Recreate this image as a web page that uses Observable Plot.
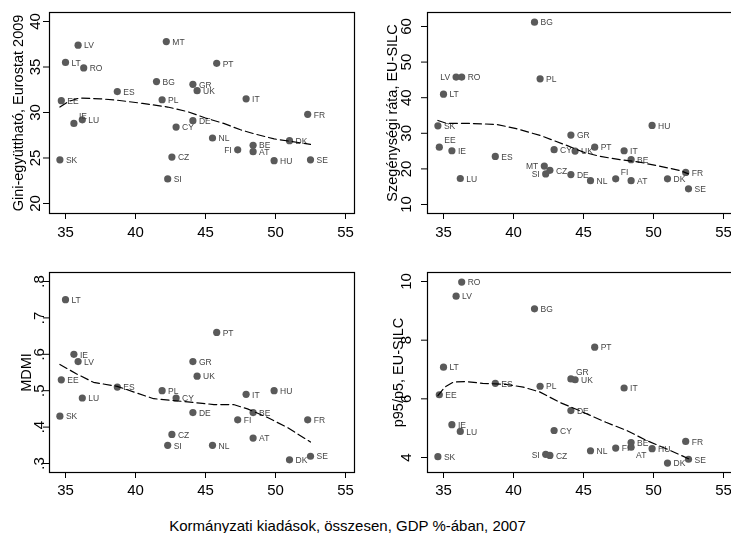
<!DOCTYPE html>
<html><head><meta charset="utf-8">
<script src="https://cdn.jsdelivr.net/npm/d3@7"></script>
<script src="https://cdn.jsdelivr.net/npm/@observablehq/plot@0.6"></script>
<style>
html,body{margin:0;padding:0;background:#fff;}
#chart{position:relative;width:731px;height:533px;overflow:hidden;background:#fff;font-family:"Liberation Sans",Arial,sans-serif;}
.panel{position:absolute;will-change:transform;}
#xtitle{position:absolute;left:0;width:695px;top:518px;text-align:center;font-size:15px;line-height:15px;color:#000;white-space:nowrap;}
</style></head><body><div id="chart"></div>
<script>
const countries   = ["AT","BE","BG","CY","CZ","DE","DK","EE","ES","FI","FR","GR","HU","IE","IT","LT","LU","LV","MT","NL","PL","PT","RO","SE","SI","SK","UK"];
const govSpending = [48.4,48.4,41.5,42.9,42.6,44.1,51.0,34.7,38.7,47.3,52.3,44.1,49.9,35.6,47.9,35.0,36.2,35.9,42.2,45.5,41.9,45.8,36.3,52.5,42.3,34.6,44.4];
const gini        = [25.7,26.4,33.4,28.4,25.1,29.1,26.9,31.3,32.3,25.9,29.8,33.1,24.7,28.8,31.5,35.5,29.2,37.4,37.8,27.2,31.4,35.4,34.9,24.8,22.7,24.8,32.4];
const poverty     = [16.7,22.6,61.2,25.4,19.6,18.4,17.2,26.1,23.5,17.2,19.0,29.5,32.2,25.1,25.1,41.0,17.3,45.8,20.8,16.7,45.3,26.1,45.8,14.4,18.6,32.1,25.0];
const mdmi        = [0.37,0.44,null,0.48,0.38,0.44,0.31,0.53,0.51,0.42,0.42,0.58,0.50,0.60,0.49,0.75,0.48,0.58,null,0.35,0.50,0.66,null,0.32,0.35,0.43,0.54];
const p95p5       = [4.35,4.51,9.07,4.92,4.07,5.60,3.81,6.14,6.53,4.32,4.55,6.68,4.30,5.12,6.37,7.08,4.89,9.50,null,4.23,6.43,7.76,9.98,3.94,4.11,4.03,6.65];

const giniSmoothX = [34.6,35.2,36.0,37.5,38.7,40.5,42.3,43.7,45.0,46.3,47.5,48.5,49.9,51.0,52.5];
const giniSmoothY = [30.6,31.2,31.6,31.5,31.35,31.0,30.6,30.1,29.4,28.8,28.1,27.65,27.1,26.85,26.5];
const povSmoothX  = [34.6,35.2,36.6,38.8,40.2,41.9,43.8,45.0,46.2,47.6,49.0,50.5,51.9,52.5];
const povSmoothY  = [33.6,32.8,32.8,32.5,31.3,29.4,26.6,24.7,23.5,22.6,21.9,20.7,19.55,18.6];
const mdmiSmoothX = [34.6,35.8,37.0,38.7,39.9,41.3,42.7,44.6,45.6,47.0,48.0,49.4,50.8,52.5];
const mdmiSmoothY = [0.572,0.546,0.523,0.512,0.496,0.478,0.473,0.466,0.462,0.462,0.450,0.427,0.400,0.359];
const p95SmoothX  = [34.6,35.1,35.7,36.6,37.8,39.5,40.7,41.9,43.3,44.7,46.6,48.1,49.5,50.9,52.5];
const p95SmoothY  = [6.11,6.40,6.57,6.59,6.53,6.49,6.40,6.23,5.88,5.60,5.20,4.92,4.58,4.30,3.96];

const xTicks = [35,40,45,50,55];
const giniTicks = [20,25,30,35,40];
const povTicks = [10,20,30,40,50,60];
const mdmiTicks = [0.3,0.4,0.5,0.6,0.7,0.8];
const p95Ticks = [4,6,8,10];
const xTitle = "Kormányzati kiadások, összesen, GDP %-ában, 2007";

const FONT = '"Liberation Sans", Arial, sans-serif';
const xDomain = [33.857, 55.643];
const chart = document.getElementById("chart");

function panel(o) {
  const data = countries.map((c, i) => ({c, x: govSpending[i], y: o.values[i]})).filter(d => d.y != null);
  const smooth = o.smoothX.map((x, i) => ({x, y: o.smoothY[i]}));
  const left = new Set(o.labelLeft || []), above = new Set(o.labelAbove || []), below = new Set(o.labelBelow || []);
  const txt = {x: "x", y: "y", text: "c", fontSize: 8.5, fill: "#444"};
  const p = Plot.plot({
    width: o.width, height: o.height,
    marginTop: 12, marginLeft: o.marginLeft, marginRight: o.marginRight, marginBottom: o.marginBottom,
    style: {fontFamily: FONT, background: "transparent", overflow: "visible", color: "#000"},
    x: {domain: xDomain, axis: null},
    y: {domain: o.yDomain, axis: null},
    marks: [
      Plot.axisX({ticks: xTicks, tickSize: 6, tickPadding: o.xPad, fontSize: 15, label: null}),
      Plot.axisY({ticks: o.yTicks, tickFormat: o.yFormat, tickSize: 6, tickPadding: o.yPad, tickRotate: -90, fontSize: 15, label: null}),
      Plot.text([o.yLabel], {text: d => d, frameAnchor: "left", textAnchor: "middle", rotate: -90, lineAnchor: "top", dx: o.titleDx, fontSize: 14.5, fill: "#000"}),
      Plot.frame({stroke: "#000", strokeWidth: 1.2}),
      Plot.dot(data, {x: "x", y: "y", r: 3.6, fill: "#5a5a5a"}),
      Plot.text(data.filter(d => !left.has(d.c) && !above.has(d.c) && !below.has(d.c)), {...txt, textAnchor: "start", dx: 6, dy: 0.5}),
      Plot.text(data.filter(d => left.has(d.c)), {...txt, textAnchor: "end", dx: -6, dy: 0.5}),
      Plot.text(data.filter(d => above.has(d.c)), {...txt, textAnchor: "start", dx: 5, dy: -7}),
      Plot.text(data.filter(d => below.has(d.c)), {...txt, textAnchor: "start", dx: 5, dy: 8}),
      Plot.line(smooth, {x: "x", y: "y", stroke: "#000", strokeWidth: 1.2, strokeDasharray: "8,4"})
    ]
  });
  p.classList.add("panel");
  p.style.left = o.left + "px";
  p.style.top = o.top + "px";
  chart.appendChild(p);
}

panel({values: gini, smoothX: giniSmoothX, smoothY: giniSmoothY, yDomain: [18.90, 40.99], yTicks: giniTicks,
  yFormat: d => String(d), yLabel: "Gini-együttható, Eurostat 2009",
  left: 0, top: 0, width: 365, height: 260, marginLeft: 49, marginRight: 11, marginBottom: 47,
  xPad: 7, yPad: 4, titleDx: -37, labelLeft: ["FI"], labelAbove: ["IE"]});

panel({values: poverty, smoothX: povSmoothX, smoothY: povSmoothY, yDomain: [7.47, 63.93], yTicks: povTicks,
  yFormat: d => String(d), yLabel: "Szegénységi ráta, EU-SILC",
  left: 365, top: 0, width: 368, height: 260, marginLeft: 62, marginRight: 1, marginBottom: 47,
  xPad: 7, yPad: 11, titleDx: -41, labelLeft: ["LV","MT","SI"], labelAbove: ["EE","FI"]});

panel({values: mdmi, smoothX: mdmiSmoothX, smoothY: mdmiSmoothY, yDomain: [0.2753, 0.8247], yTicks: mdmiTicks,
  yFormat: d => d.toFixed(1).replace(/^0/, ""), yLabel: "MDMI",
  left: 0, top: 260, width: 365, height: 245, marginLeft: 49, marginRight: 11, marginBottom: 33,
  xPad: 6, yPad: 0, titleDx: -28.5});

panel({values: p95p5, smoothX: p95SmoothX, smoothY: p95SmoothY, yDomain: [3.489, 10.307], yTicks: p95Ticks,
  yFormat: d => String(d), yLabel: "p95/p5, EU-SILC",
  left: 365, top: 260, width: 368, height: 245, marginLeft: 62, marginRight: 1, marginBottom: 33,
  xPad: 6, yPad: 11, titleDx: -35, labelLeft: ["SI"], labelAbove: ["GR"], labelBelow: ["AT"]});

const xt = document.createElement("div");
xt.id = "xtitle";
xt.textContent = xTitle;
chart.appendChild(xt);
</script>
</body></html>
